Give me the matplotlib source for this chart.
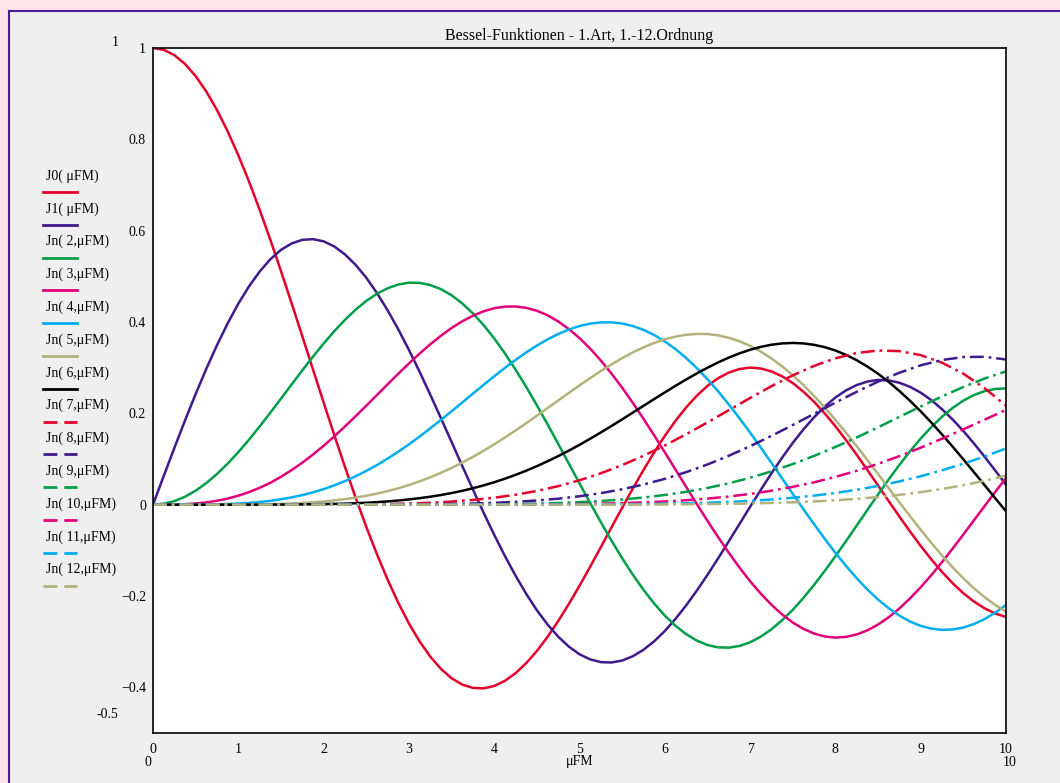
import matplotlib

matplotlib.use("Agg")
import matplotlib.pyplot as plt
from matplotlib.lines import Line2D
from matplotlib.patches import Rectangle

plt.rcParams["font.family"] = ["Liberation Serif", "DejaVu Serif"]
plt.rcParams["lines.scale_dashes"] = False

# Abtastpunkte
x_eighth = [0.0, 0.125, 0.25, 0.375, 0.5, 0.625, 0.75, 0.875,
            1.0, 1.125, 1.25, 1.375, 1.5, 1.625, 1.75, 1.875,
            2.0, 2.125, 2.25, 2.375, 2.5, 2.625, 2.75, 2.875,
            3.0, 3.125, 3.25, 3.375, 3.5, 3.625, 3.75, 3.875,
            4.0, 4.125, 4.25, 4.375, 4.5, 4.625, 4.75, 4.875,
            5.0, 5.125, 5.25, 5.375, 5.5, 5.625, 5.75, 5.875,
            6.0, 6.125, 6.25, 6.375, 6.5, 6.625, 6.75, 6.875,
            7.0, 7.125, 7.25, 7.375, 7.5, 7.625, 7.75, 7.875,
            8.0, 8.125, 8.25, 8.375, 8.5, 8.625, 8.75, 8.875,
            9.0, 9.125, 9.25, 9.375, 9.5, 9.625, 9.75, 9.875,
            10.0]
x_quarter = [0.0, 0.25, 0.5, 0.75, 1.0, 1.25, 1.5, 1.75, 2.0, 2.25, 2.5, 2.75,
             3.0, 3.25, 3.5, 3.75, 4.0, 4.25, 4.5, 4.75, 5.0, 5.25, 5.5, 5.75,
             6.0, 6.25, 6.5, 6.75, 7.0, 7.25, 7.5, 7.75, 8.0, 8.25, 8.5, 8.75,
             9.0, 9.25, 9.5, 9.75, 10.0]

# J0 .. J6 (durchgezogen), Schritt 1/8
j0 = [1.0, .9961, .9844, .9652, .9385, .9047, .8642, .8176,
      .7652, .7078, .6459, .5803, .5118, .4411, .3690, .2963,
      .2239, .1525, .0829, .0157, -.0484, -.1083, -.1639, -.2147,
      -.2601, -.2993, -.3325, -.3595, -.3801, -.3939, -.4012, -.4022,
      -.3971, -.3858, -.3690, -.3471, -.3205, -.2896, -.2550, -.2175,
      -.1776, -.1359, -.0931, -.0498, -.0068, .0352, .0758, .1145,
      .1506, .1835, .2129, .2385, .2601, .2769, .2892, .2970,
      .3001, .2982, .2918, .2811, .2663, .2474, .2251, .1997,
      .1717, .1413, .1092, .0759, .0419, .0078, -.0259, -.0588,
      -.0903, -.1199, -.1473, -.1721, -.1939, -.2122, -.2271, -.2384,
      -.2459]
j1 = [0.0, .0624, .1240, .1842, .2423, .2975, .3492, .3969,
      .4401, .4779, .5104, .5372, .5579, .5720, .5799, .5814,
      .5767, .5654, .5481, .5252, .4971, .4637, .4258, .3841,
      .3391, .2912, .2411, .1896, .1374, .0851, .0333, -.0173,
      -.0660, -.1122, -.1554, -.1952, -.2311, -.2623, -.2890, -.3108,
      -.3276, -.3388, -.3448, -.3456, -.3414, -.3319, -.3178, -.2993,
      -.2767, -.2502, -.2206, -.1883, -.1538, -.1176, -.0803, -.0425,
      -.0047, .0324, .0685, .1029, .1352, .1648, .1914, .2148,
      .2346, .2503, .2620, .2696, .2731, .2721, .2670, .2580,
      .2453, .2288, .2090, .1864, .1613, .1339, .1048, .0745,
      .0435]
j2 = [0.0, .0020, .0078, .0174, .0306, .0473, .0671, .0898,
      .1149, .1422, .1712, .2013, .2321, .2632, .2940, .3240,
      .3528, .3798, .4046, .4268, .4461, .4618, .4738, .4820,
      .4861, .4856, .4809, .4719, .4586, .4408, .4189, .3933,
      .3641, .3314, .2959, .2579, .2178, .1761, .1333, .0900,
      .0466, .0037, -.0383, -.0788, -.1173, -.1533, -.1864, -.2164,
      -.2429, -.2652, -.2835, -.2976, -.3074, -.3125, -.3131, -.3094,
      -.3014, -.2891, -.2729, -.2532, -.2303, -.2042, -.1757, -.1451,
      -.1130, -.0797, -.0457, -.0115, .0223, .0552, .0869, .1169,
      .1448, .1700, .1925, .2119, .2279, .2401, .2487, .2535,
      .2546]
j3 = [0.0, 0.0, .0003, .0011, .0026, .0050, .0085, .0133,
      .0196, .0274, .0369, .0478, .0610, .0757, .0919, .1097,
      .1289, .1495, .1712, .1936, .2166, .2400, .2634, .2866,
      .3091, .3307, .3510, .3698, .3868, .4015, .4137, .4234,
      .4302, .4337, .4340, .4310, .4247, .4147, .4013, .3846,
      .3648, .3417, .3157, .2871, .2561, .2230, .1881, .1519,
      .1148, .0770, .0391, .0015, -.0353, -.0710, -.1052, -.1375,
      -.1676, -.1948, -.2191, -.2403, -.2581, -.2720, -.2822, -.2886,
      -.2911, -.2895, -.2842, -.2752, -.2626, -.2465, -.2273, -.2053,
      -.1809, -.1542, -.1258, -.0960, -.0653, -.0341, -.0028, .0282,
      .0584]
j4 = [0.0, 0.0, 0.0, .0001, .0002, .0004, .0008, .0015,
      .0025, .0039, .0059, .0084, .0118, .0159, .0209, .0269,
      .0340, .0422, .0515, .0621, .0738, .0867, .1008, .1159,
      .1320, .1491, .1670, .1855, .2044, .2237, .2431, .2623,
      .2811, .2994, .3169, .3333, .3484, .3619, .3737, .3835,
      .3912, .3964, .3992, .3993, .3967, .3912, .3828, .3716,
      .3576, .3407, .3212, .2992, .2748, .2482, .2196, .1894,
      .1578, .1251, .0916, .0577, .0238, -.0098, -.0428, -.0748,
      -.1054, -.1342, -.1611, -.1857, -.2077, -.2268, -.2429, -.2558,
      -.2655, -.2715, -.2741, -.2733, -.2691, -.2614, -.2504, -.2364,
      -.2196]
j5 = [0.0, 0.0, 0.0, 0.0, 0.0, 0.0, .0001, .0001,
      .0002, .0004, .0007, .0012, .0018, .0027, .0038, .0052,
      .0070, .0093, .0121, .0155, .0195, .0242, .0297, .0359,
      .0430, .0510, .0599, .0697, .0804, .0921, .1046, .1180,
      .1321, .1470, .1624, .1784, .1947, .2114, .2281, .2447,
      .2611, .2771, .2926, .3072, .3209, .3334, .3445, .3541,
      .3621, .3680, .3720, .3739, .3736, .3707, .3655, .3579,
      .3479, .3353, .3203, .3030, .2835, .2618, .2381, .2127,
      .1858, .1574, .1280, .0978, .0671, .0362, .0053, -.0252,
      -.0550, -.0838, -.1113, -.1372, -.1613, -.1832, -.2027, -.2198,
      -.2341]
j6 = [0.0, 0.0, 0.0, 0.0, 0.0, 0.0, 0.0, 0.0,
      0.0, 0.0, .0001, .0001, .0002, .0004, .0006, .0009,
      .0012, .0017, .0023, .0031, .0042, .0055, .0071, .0091,
      .0114, .0142, .0174, .0211, .0254, .0303, .0359, .0422,
      .0491, .0568, .0652, .0744, .0843, .0950, .1063, .1183,
      .1310, .1443, .1581, .1723, .1868, .2016, .2164, .2312,
      .2458, .2602, .2741, .2874, .2999, .3115, .3220, .3313,
      .3392, .3455, .3502, .3531, .3541, .3531, .3500, .3449,
      .3376, .3280, .3163, .3025, .2867, .2688, .2490, .2274,
      .2043, .1797, .1538, .1269, .0993, .0710, .0425, .0139,
      -.0145]

# J7 .. J12 (strichpunktiert), Schritt 1/4
j7 = [0.0, 0.0, 0.0, 0.0, 0.0, 0.0, 0.0, .0001, .0002, .0004, .0008,
      .0014, .0025, .0042, .0067, .0103, .0152, .0217, .0300, .0405,
      .0534, .0687, .0866, .1070, .1296, .1542, .1801, .2069, .2336,
      .2594, .2832, .3039, .3206, .3321, .3376, .3362, .3275, .3109,
      .2868, .2551, .2167]
j8 = [0.0, 0.0, 0.0, 0.0, 0.0, 0.0, 0.0, 0.0, 0.0, .0001, .0001,
      .0003, .0005, .0009, .0015, .0025, .0040, .0062, .0091, .0131,
      .0184, .0252, .0337, .0441, .0565, .0712, .0880, .1071, .1280,
      .1506, .1744, .1989, .2235, .2472, .2694, .2889, .3051, .3168,
      .3233, .3238, .3179]
j9 = [0.0, 0.0, 0.0, 0.0, 0.0, 0.0, 0.0, 0.0, 0.0, 0.0, 0.0,
      0.0, .0001, .0002, .0003, .0005, .0009, .0015, .0024, .0037,
      .0055, .0080, .0113, .0156, .0212, .0281, .0366, .0468, .0589,
      .0730, .0889, .1068, .1263, .1473, .1694, .1922, .2149, .2370,
      .2577, .2763, .2919]
j10 = [0.0, 0.0, 0.0, 0.0, 0.0, 0.0, 0.0, 0.0, 0.0, 0.0, 0.0,
       0.0, 0.0, 0.0, .0001, .0001, .0002, .0003, .0006, .0009,
       .0015, .0022, .0034, .0049, .0070, .0097, .0133, .0178, .0235,
       .0305, .0390, .0490, .0608, .0742, .0894, .1063, .1247, .1444,
       .1650, .1862, .2075]
j11 = [0.0, 0.0, 0.0, 0.0, 0.0, 0.0, 0.0, 0.0, 0.0, 0.0, 0.0,
       0.0, 0.0, 0.0, 0.0, 0.0, 0.0, .0001, .0001, .0002,
       .0004, .0006, .0009, .0014, .0020, .0030, .0043, .0060, .0083,
       .0113, .0151, .0198, .0256, .0326, .0410, .0509, .0622, .0752,
       .0896, .1057, .1231]
j12 = [0.0, 0.0, 0.0, 0.0, 0.0, 0.0, 0.0, 0.0, 0.0, 0.0, 0.0,
       0.0, 0.0, 0.0, 0.0, 0.0, 0.0, 0.0, 0.0, 0.0,
       .0001, .0001, .0002, .0003, .0005, .0008, .0012, .0018, .0027,
       .0038, .0052, .0071, .0096, .0128, .0167, .0215, .0274, .0344,
       .0426, .0523, .0634]

labels = ["J0( μFM)", "J1( μFM)"] + [f"Jn( {n},μFM)" for n in range(2, 13)]
y_ticks = [-0.4, -0.2, 0, 0.2, 0.4, 0.6, 0.8, 1]
y_tick_labels = ["−0.4", "−0.2", "0", "0.2", "0.4", "0.6", "0.8", "1"]
x_ticks = [0, 1, 2, 3, 4, 5, 6, 7, 8, 9, 10]

RED = "#e4002b"
INDIGO = "#3f1a8c"
GREEN = "#009e49"
MAGENTA = "#e2007a"
CYAN = "#00aeef"
KHAKI = "#b2b27a"
BLACK = "#000000"

solid = [(j0, RED), (j1, INDIGO), (j2, GREEN), (j3, MAGENTA),
         (j4, CYAN), (j5, KHAKI), (j6, BLACK)]
dashdot = [(j7, RED), (j8, INDIGO), (j9, GREEN), (j10, MAGENTA),
           (j11, CYAN), (j12, KHAKI)]

W, H = 1060, 783


def fx(px):
    return px / W


def fy(py):
    return 1 - py / H


fig = plt.figure(figsize=(W / 100, H / 100), dpi=100)
fig.patch.set_facecolor("#efefef")

# rosa Rand + lila Rahmen (nur links und oben)
fig.add_artist(Rectangle((0, 0), fx(8), 1, transform=fig.transFigure,
                         color="#fde3ea", lw=0))
fig.add_artist(Rectangle((0, fy(10)), 1, 10 / H, transform=fig.transFigure,
                         color="#fde3ea", lw=0))
fig.add_artist(Line2D([fx(8.5), fx(8.5)], [0, fy(10.5)], transform=fig.transFigure,
                      color="#4a1c9a", lw=1.5))
fig.add_artist(Line2D([fx(8.5), 1], [fy(10.5), fy(10.5)], transform=fig.transFigure,
                      color="#4a1c9a", lw=1.5))

ax = fig.add_axes([fx(153), fy(733), fx(1006) - fx(153), fy(48) - fy(733)])
ax.set_facecolor("white")

dd_style = (0, (10, 3.5, 2, 3.5))
for ys, c in solid:
    ax.plot(x_eighth, ys, color=c, lw=1.8)
for ys, c in dashdot:
    ax.plot(x_quarter, ys, color=c, lw=1.8, linestyle=dd_style)

ax.set_xlim(0, 10)
ax.set_ylim(-0.5, 1)
ax.set_xticks(x_ticks)
ax.set_xticklabels([str(t) for t in x_ticks])
ax.set_yticks(y_ticks)
ax.set_yticklabels(y_tick_labels)
ax.tick_params(axis="both", length=0, labelsize=10)
ax.tick_params(axis="x", pad=7)
ax.tick_params(axis="y", pad=5)
for sp in ax.spines.values():
    sp.set_linewidth(1.2)

ax.set_title("Bessel-Funktionen - 1.Art, 1.-12.Ordnung", fontsize=11.5, pad=6)
fig.text(fx(580), fy(762), "μFM", ha="center", va="center", fontsize=10)

# Achsgrenzen wie bei Mathcad
fig.text(fx(115), fy(43), "1", ha="center", va="center", fontsize=10)
fig.text(fx(107), fy(715), "-0.5", ha="center", va="center", fontsize=10)
fig.text(fx(148), fy(763), "0", ha="center", va="center", fontsize=10)
fig.text(fx(1010), fy(763), "10", ha="center", va="center", fontsize=10)

# Legende links
colors = [c for _, c in solid] + [c for _, c in dashdot]
for i, (lab, c) in enumerate(zip(labels, colors)):
    ty = 176 + 32.8 * i
    ly = 192 + 32.8 * i
    fig.text(fx(46), fy(ty), lab, ha="left", va="center", fontsize=10)
    if i < 7:
        fig.add_artist(Line2D([fx(43), fx(77)], [fy(ly), fy(ly)],
                              transform=fig.transFigure, color=c, lw=2.0))
    else:
        fig.add_artist(Line2D([fx(43), fx(77)], [fy(ly), fy(ly)],
                              transform=fig.transFigure, color=c, lw=2.0,
                              linestyle=(0, (10, 5))))

fig.savefig("out.png", dpi=100, facecolor=fig.get_facecolor())
